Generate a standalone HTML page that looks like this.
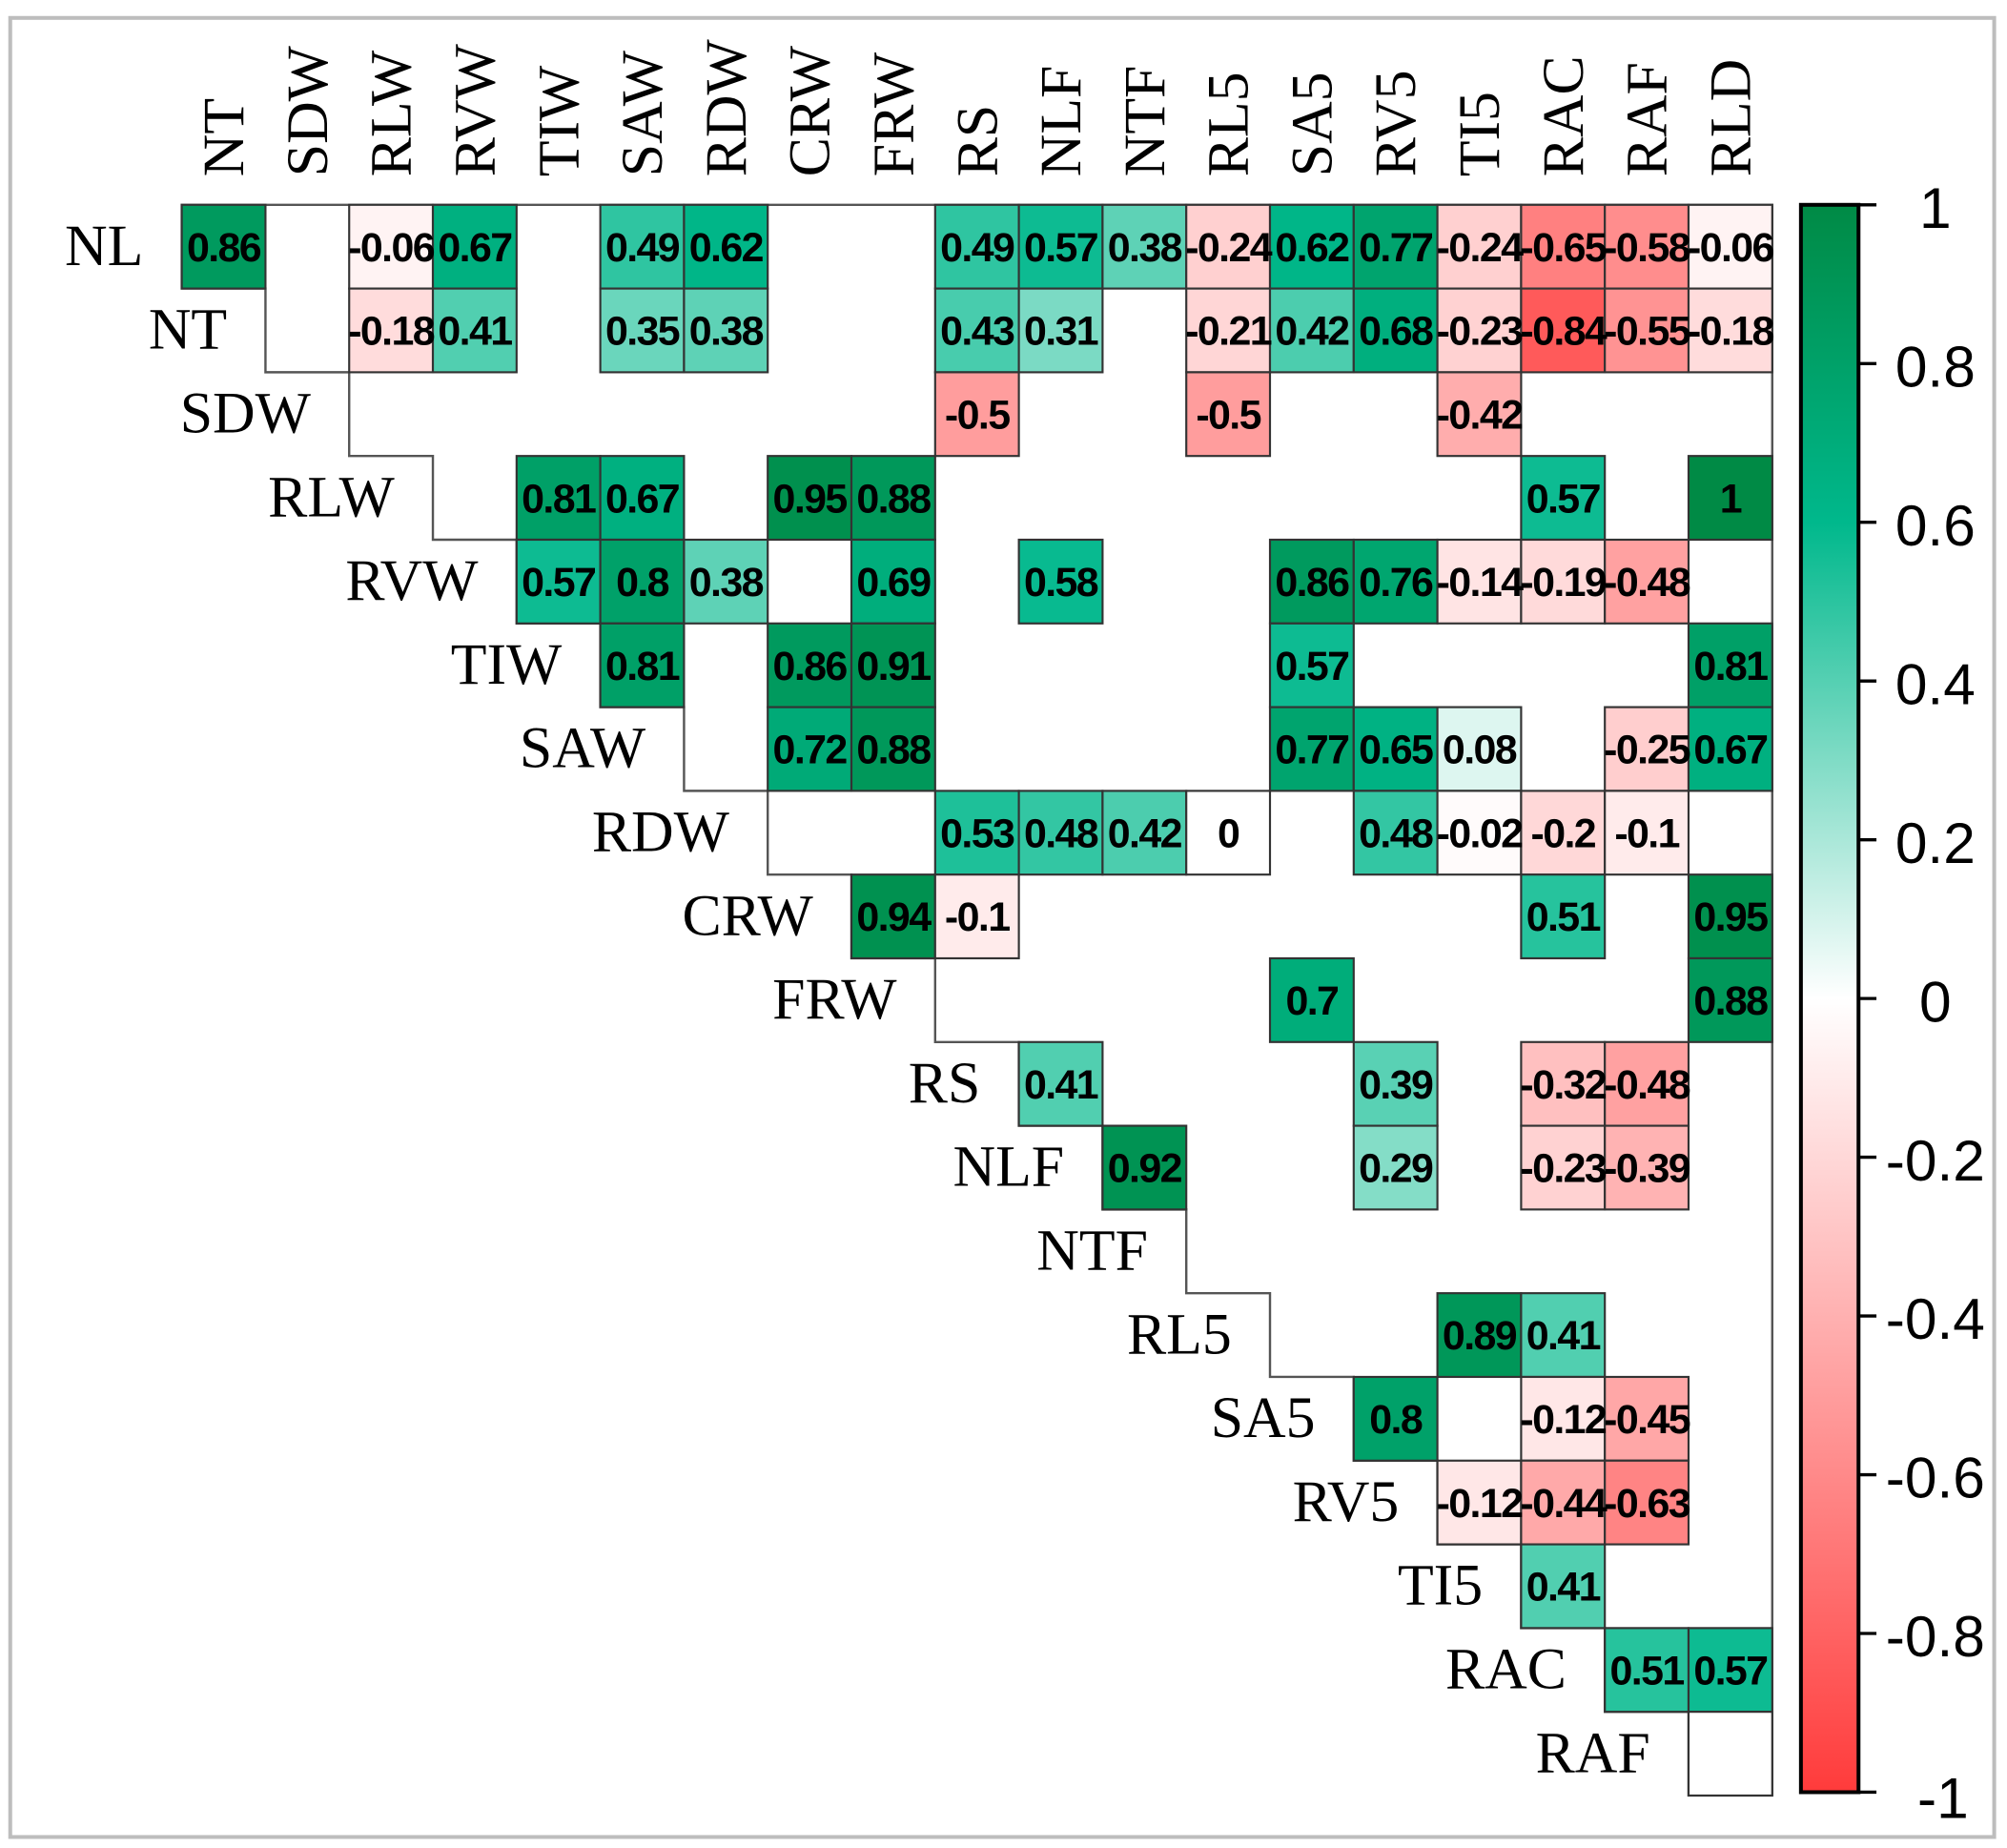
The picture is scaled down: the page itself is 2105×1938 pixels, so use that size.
<!DOCTYPE html>
<html><head><meta charset="utf-8"><style>
html,body{margin:0;padding:0;background:#fff;}
svg{display:block}
.v{font-family:"Liberation Sans",Arial,sans-serif;font-weight:bold;font-size:32px;letter-spacing:-1.2px;text-anchor:middle;fill:#000}
.l{font-family:"Liberation Serif","Times New Roman",serif;font-size:46px;fill:#000}
.r{text-anchor:end}
.t{font-family:"Liberation Sans",Arial,sans-serif;font-size:45px;text-anchor:middle;fill:#000}
rect.c{stroke:#333;stroke-width:1.6}
</style></head><body>
<svg width="2105" height="1938" viewBox="0 0 1568 1443.6" xmlns="http://www.w3.org/2000/svg">
<defs><linearGradient id="g" x1="0" y1="0" x2="0" y2="1">
<stop offset="0" stop-color="#008a45"/><stop offset="0.2" stop-color="#00b88c"/><stop offset="0.5" stop-color="#ffffff"/><stop offset="1" stop-color="#ff3b3b"/></linearGradient></defs>
<rect x="0" y="0" width="1568" height="1443.6" fill="#fff"/>
<rect x="8" y="14" width="1550" height="1421" fill="none" stroke="#bdbdbd" stroke-width="3"/>

<g class="l">
<text transform="translate(190,138) rotate(-90)">NT</text>
<text transform="translate(255.4,138) rotate(-90)">SDW</text>
<text transform="translate(320.8,138) rotate(-90)">RLW</text>
<text transform="translate(386.2,138) rotate(-90)">RVW</text>
<text transform="translate(451.6,138) rotate(-90)">TIW</text>
<text transform="translate(517,138) rotate(-90)">SAW</text>
<text transform="translate(582.4,138) rotate(-90)">RDW</text>
<text transform="translate(647.8,138) rotate(-90)">CRW</text>
<text transform="translate(713.2,138) rotate(-90)">FRW</text>
<text transform="translate(778.6,138) rotate(-90)">RS</text>
<text transform="translate(844,138) rotate(-90)">NLF</text>
<text transform="translate(909.4,138) rotate(-90)">NTF</text>
<text transform="translate(974.8,138) rotate(-90)">RL5</text>
<text transform="translate(1040.2,138) rotate(-90)">SA5</text>
<text transform="translate(1105.6,138) rotate(-90)">RV5</text>
<text transform="translate(1171,138) rotate(-90)">TI5</text>
<text transform="translate(1236.4,138) rotate(-90)">RAC</text>
<text transform="translate(1301.8,138) rotate(-90)">RAF</text>
<text transform="translate(1367.2,138) rotate(-90)">RLD</text>
</g>
<g class="l r">
<text x="112" y="207">NL</text>
<text x="177.4" y="272.4">NT</text>
<text x="242.8" y="337.8">SDW</text>
<text x="308.2" y="403.2">RLW</text>
<text x="373.6" y="468.6">RVW</text>
<text x="439" y="534">TIW</text>
<text x="504.4" y="599.4">SAW</text>
<text x="569.8" y="664.8">RDW</text>
<text x="635.2" y="730.2">CRW</text>
<text x="700.6" y="795.6">FRW</text>
<text x="766" y="861">RS</text>
<text x="831.4" y="926.4">NLF</text>
<text x="896.8" y="991.8">NTF</text>
<text x="962.2" y="1057.2">RL5</text>
<text x="1027.6" y="1122.6">SA5</text>
<text x="1093" y="1188">RV5</text>
<text x="1158.4" y="1253.4">TI5</text>
<text x="1223.8" y="1318.8">RAC</text>
<text x="1289.2" y="1384.2">RAF</text>
</g>

<path d="M142,160 H1384.6 V1402.6 H1319.2 V1337.2 H1253.8 V1271.8 H1188.4 V1206.4 H1123 V1141 H1057.6 V1075.6 H992.2 V1010.2 H926.8 V944.8 H861.4 V879.4 H796 V814 H730.6 V748.6 H665.2 V683.2 H599.8 V617.8 H534.4 V552.4 H469 V487 H403.6 V421.6 H338.2 V356.2 H272.8 V290.8 H207.4 V225.4 H142 Z" fill="none" stroke="#555" stroke-width="1.8"/>

<g id="cells">
<rect class="c" x="142" y="160" width="65.4" height="65.4" fill="#009a5e"/>
<rect class="c" x="272.8" y="160" width="65.4" height="65.4" fill="#fff3f3"/>
<rect class="c" x="338.2" y="160" width="65.4" height="65.4" fill="#00b080"/>
<rect class="c" x="469" y="160" width="65.4" height="65.4" fill="#2fc5a1"/>
<rect class="c" x="534.4" y="160" width="65.4" height="65.4" fill="#00b688"/>
<rect class="c" x="730.6" y="160" width="65.4" height="65.4" fill="#2fc5a1"/>
<rect class="c" x="796" y="160" width="65.4" height="65.4" fill="#0dbb92"/>
<rect class="c" x="861.4" y="160" width="65.4" height="65.4" fill="#5ed2b6"/>
<rect class="c" x="926.8" y="160" width="65.4" height="65.4" fill="#ffd0d0"/>
<rect class="c" x="992.2" y="160" width="65.4" height="65.4" fill="#00b688"/>
<rect class="c" x="1057.6" y="160" width="65.4" height="65.4" fill="#00a46e"/>
<rect class="c" x="1123" y="160" width="65.4" height="65.4" fill="#ffd0d0"/>
<rect class="c" x="1188.4" y="160" width="65.4" height="65.4" fill="#ff8080"/>
<rect class="c" x="1253.8" y="160" width="65.4" height="65.4" fill="#ff8d8d"/>
<rect class="c" x="1319.2" y="160" width="65.4" height="65.4" fill="#fff3f3"/>
<rect class="c" x="272.8" y="225.4" width="65.4" height="65.4" fill="#ffdcdc"/>
<rect class="c" x="338.2" y="225.4" width="65.4" height="65.4" fill="#51cfb0"/>
<rect class="c" x="469" y="225.4" width="65.4" height="65.4" fill="#6ad6bc"/>
<rect class="c" x="534.4" y="225.4" width="65.4" height="65.4" fill="#5ed2b6"/>
<rect class="c" x="730.6" y="225.4" width="65.4" height="65.4" fill="#48ccad"/>
<rect class="c" x="796" y="225.4" width="65.4" height="65.4" fill="#7bdac4"/>
<rect class="c" x="926.8" y="225.4" width="65.4" height="65.4" fill="#ffd6d6"/>
<rect class="c" x="992.2" y="225.4" width="65.4" height="65.4" fill="#4ccdae"/>
<rect class="c" x="1057.6" y="225.4" width="65.4" height="65.4" fill="#00af7e"/>
<rect class="c" x="1123" y="225.4" width="65.4" height="65.4" fill="#ffd2d2"/>
<rect class="c" x="1188.4" y="225.4" width="65.4" height="65.4" fill="#ff5a5a"/>
<rect class="c" x="1253.8" y="225.4" width="65.4" height="65.4" fill="#ff9393"/>
<rect class="c" x="1319.2" y="225.4" width="65.4" height="65.4" fill="#ffdcdc"/>
<rect class="c" x="730.6" y="290.8" width="65.4" height="65.4" fill="#ff9d9d"/>
<rect class="c" x="926.8" y="290.8" width="65.4" height="65.4" fill="#ff9d9d"/>
<rect class="c" x="1123" y="290.8" width="65.4" height="65.4" fill="#ffadad"/>
<rect class="c" x="403.6" y="356.2" width="65.4" height="65.4" fill="#00a067"/>
<rect class="c" x="469" y="356.2" width="65.4" height="65.4" fill="#00b080"/>
<rect class="c" x="599.8" y="356.2" width="65.4" height="65.4" fill="#00904e"/>
<rect class="c" x="665.2" y="356.2" width="65.4" height="65.4" fill="#00985a"/>
<rect class="c" x="1188.4" y="356.2" width="65.4" height="65.4" fill="#0dbb92"/>
<rect class="c" x="1319.2" y="356.2" width="65.4" height="65.4" fill="#008a45"/>
<rect class="c" x="403.6" y="421.6" width="65.4" height="65.4" fill="#0dbb92"/>
<rect class="c" x="469" y="421.6" width="65.4" height="65.4" fill="#00a169"/>
<rect class="c" x="534.4" y="421.6" width="65.4" height="65.4" fill="#5ed2b6"/>
<rect class="c" x="665.2" y="421.6" width="65.4" height="65.4" fill="#00ae7c"/>
<rect class="c" x="796" y="421.6" width="65.4" height="65.4" fill="#08ba90"/>
<rect class="c" x="992.2" y="421.6" width="65.4" height="65.4" fill="#009a5e"/>
<rect class="c" x="1057.6" y="421.6" width="65.4" height="65.4" fill="#00a66f"/>
<rect class="c" x="1123" y="421.6" width="65.4" height="65.4" fill="#ffe4e4"/>
<rect class="c" x="1188.4" y="421.6" width="65.4" height="65.4" fill="#ffdada"/>
<rect class="c" x="1253.8" y="421.6" width="65.4" height="65.4" fill="#ffa1a1"/>
<rect class="c" x="469" y="487" width="65.4" height="65.4" fill="#00a067"/>
<rect class="c" x="599.8" y="487" width="65.4" height="65.4" fill="#009a5e"/>
<rect class="c" x="665.2" y="487" width="65.4" height="65.4" fill="#009455"/>
<rect class="c" x="992.2" y="487" width="65.4" height="65.4" fill="#0dbb92"/>
<rect class="c" x="1319.2" y="487" width="65.4" height="65.4" fill="#00a067"/>
<rect class="c" x="599.8" y="552.4" width="65.4" height="65.4" fill="#00aa77"/>
<rect class="c" x="665.2" y="552.4" width="65.4" height="65.4" fill="#00985a"/>
<rect class="c" x="992.2" y="552.4" width="65.4" height="65.4" fill="#00a46e"/>
<rect class="c" x="1057.6" y="552.4" width="65.4" height="65.4" fill="#00b283"/>
<rect class="c" x="1123" y="552.4" width="65.4" height="65.4" fill="#ddf6f0"/>
<rect class="c" x="1253.8" y="552.4" width="65.4" height="65.4" fill="#ffcece"/>
<rect class="c" x="1319.2" y="552.4" width="65.4" height="65.4" fill="#00b080"/>
<rect class="c" x="730.6" y="617.8" width="65.4" height="65.4" fill="#1ec099"/>
<rect class="c" x="796" y="617.8" width="65.4" height="65.4" fill="#33c6a3"/>
<rect class="c" x="861.4" y="617.8" width="65.4" height="65.4" fill="#4ccdae"/>
<rect class="c" x="926.8" y="617.8" width="65.4" height="65.4" fill="#ffffff"/>
<rect class="c" x="1057.6" y="617.8" width="65.4" height="65.4" fill="#33c6a3"/>
<rect class="c" x="1123" y="617.8" width="65.4" height="65.4" fill="#fffbfb"/>
<rect class="c" x="1188.4" y="617.8" width="65.4" height="65.4" fill="#ffd8d8"/>
<rect class="c" x="1253.8" y="617.8" width="65.4" height="65.4" fill="#ffebeb"/>
<rect class="c" x="665.2" y="683.2" width="65.4" height="65.4" fill="#009150"/>
<rect class="c" x="730.6" y="683.2" width="65.4" height="65.4" fill="#ffebeb"/>
<rect class="c" x="1188.4" y="683.2" width="65.4" height="65.4" fill="#26c39d"/>
<rect class="c" x="1319.2" y="683.2" width="65.4" height="65.4" fill="#00904e"/>
<rect class="c" x="992.2" y="748.6" width="65.4" height="65.4" fill="#00ad7a"/>
<rect class="c" x="1319.2" y="748.6" width="65.4" height="65.4" fill="#00985a"/>
<rect class="c" x="796" y="814" width="65.4" height="65.4" fill="#51cfb0"/>
<rect class="c" x="1057.6" y="814" width="65.4" height="65.4" fill="#59d1b4"/>
<rect class="c" x="1188.4" y="814" width="65.4" height="65.4" fill="#ffc0c0"/>
<rect class="c" x="1253.8" y="814" width="65.4" height="65.4" fill="#ffa1a1"/>
<rect class="c" x="861.4" y="879.4" width="65.4" height="65.4" fill="#009353"/>
<rect class="c" x="1057.6" y="879.4" width="65.4" height="65.4" fill="#84ddc7"/>
<rect class="c" x="1188.4" y="879.4" width="65.4" height="65.4" fill="#ffd2d2"/>
<rect class="c" x="1253.8" y="879.4" width="65.4" height="65.4" fill="#ffb3b3"/>
<rect class="c" x="1123" y="1010.2" width="65.4" height="65.4" fill="#009759"/>
<rect class="c" x="1188.4" y="1010.2" width="65.4" height="65.4" fill="#51cfb0"/>
<rect class="c" x="1057.6" y="1075.6" width="65.4" height="65.4" fill="#00a169"/>
<rect class="c" x="1188.4" y="1075.6" width="65.4" height="65.4" fill="#ffe7e7"/>
<rect class="c" x="1253.8" y="1075.6" width="65.4" height="65.4" fill="#ffa7a7"/>
<rect class="c" x="1123" y="1141" width="65.4" height="65.4" fill="#ffe7e7"/>
<rect class="c" x="1188.4" y="1141" width="65.4" height="65.4" fill="#ffa9a9"/>
<rect class="c" x="1253.8" y="1141" width="65.4" height="65.4" fill="#ff8484"/>
<rect class="c" x="1188.4" y="1206.4" width="65.4" height="65.4" fill="#51cfb0"/>
<rect class="c" x="1253.8" y="1271.8" width="65.4" height="65.4" fill="#26c39d"/>
<rect class="c" x="1319.2" y="1271.8" width="65.4" height="65.4" fill="#0dbb92"/>
<rect class="c" x="1319.2" y="1337.2" width="65.4" height="65.4" fill="#ffffff"/>
</g>

<g class="v">
<text x="174.7" y="204">0.86</text><text x="305.5" y="204">-0.06</text><text x="370.9" y="204">0.67</text><text x="501.7" y="204">0.49</text><text x="567.1" y="204">0.62</text><text x="763.3" y="204">0.49</text><text x="828.7" y="204">0.57</text><text x="894.1" y="204">0.38</text><text x="959.5" y="204">-0.24</text><text x="1024.9" y="204">0.62</text><text x="1090.3" y="204">0.77</text><text x="1155.7" y="204">-0.24</text><text x="1221.1" y="204">-0.65</text><text x="1286.5" y="204">-0.58</text><text x="1351.9" y="204">-0.06</text>
<text x="305.5" y="269.4">-0.18</text><text x="370.9" y="269.4">0.41</text><text x="501.7" y="269.4">0.35</text><text x="567.1" y="269.4">0.38</text><text x="763.3" y="269.4">0.43</text><text x="828.7" y="269.4">0.31</text><text x="959.5" y="269.4">-0.21</text><text x="1024.9" y="269.4">0.42</text><text x="1090.3" y="269.4">0.68</text><text x="1155.7" y="269.4">-0.23</text><text x="1221.1" y="269.4">-0.84</text><text x="1286.5" y="269.4">-0.55</text><text x="1351.9" y="269.4">-0.18</text>
<text x="763.3" y="334.8">-0.5</text><text x="959.5" y="334.8">-0.5</text><text x="1155.7" y="334.8">-0.42</text>
<text x="436.3" y="400.2">0.81</text><text x="501.7" y="400.2">0.67</text><text x="632.5" y="400.2">0.95</text><text x="697.9" y="400.2">0.88</text><text x="1221.1" y="400.2">0.57</text><text x="1351.9" y="400.2">1</text>
<text x="436.3" y="465.6">0.57</text><text x="501.7" y="465.6">0.8</text><text x="567.1" y="465.6">0.38</text><text x="697.9" y="465.6">0.69</text><text x="828.7" y="465.6">0.58</text><text x="1024.9" y="465.6">0.86</text><text x="1090.3" y="465.6">0.76</text><text x="1155.7" y="465.6">-0.14</text><text x="1221.1" y="465.6">-0.19</text><text x="1286.5" y="465.6">-0.48</text>
<text x="501.7" y="531">0.81</text><text x="632.5" y="531">0.86</text><text x="697.9" y="531">0.91</text><text x="1024.9" y="531">0.57</text><text x="1351.9" y="531">0.81</text>
<text x="632.5" y="596.4">0.72</text><text x="697.9" y="596.4">0.88</text><text x="1024.9" y="596.4">0.77</text><text x="1090.3" y="596.4">0.65</text><text x="1155.7" y="596.4">0.08</text><text x="1286.5" y="596.4">-0.25</text><text x="1351.9" y="596.4">0.67</text>
<text x="763.3" y="661.8">0.53</text><text x="828.7" y="661.8">0.48</text><text x="894.1" y="661.8">0.42</text><text x="959.5" y="661.8">0</text><text x="1090.3" y="661.8">0.48</text><text x="1155.7" y="661.8">-0.02</text><text x="1221.1" y="661.8">-0.2</text><text x="1286.5" y="661.8">-0.1</text>
<text x="697.9" y="727.2">0.94</text><text x="763.3" y="727.2">-0.1</text><text x="1221.1" y="727.2">0.51</text><text x="1351.9" y="727.2">0.95</text>
<text x="1024.9" y="792.6">0.7</text><text x="1351.9" y="792.6">0.88</text>
<text x="828.7" y="858">0.41</text><text x="1090.3" y="858">0.39</text><text x="1221.1" y="858">-0.32</text><text x="1286.5" y="858">-0.48</text>
<text x="894.1" y="923.4">0.92</text><text x="1090.3" y="923.4">0.29</text><text x="1221.1" y="923.4">-0.23</text><text x="1286.5" y="923.4">-0.39</text>
<text x="1155.7" y="1054.2">0.89</text><text x="1221.1" y="1054.2">0.41</text>
<text x="1090.3" y="1119.6">0.8</text><text x="1221.1" y="1119.6">-0.12</text><text x="1286.5" y="1119.6">-0.45</text>
<text x="1155.7" y="1185">-0.12</text><text x="1221.1" y="1185">-0.44</text><text x="1286.5" y="1185">-0.63</text>
<text x="1221.1" y="1250.4">0.41</text>
<text x="1286.5" y="1315.8">0.51</text><text x="1351.9" y="1315.8">0.57</text>
</g>

<rect x="1407" y="160" width="45" height="1240" fill="url(#g)" stroke="#000" stroke-width="3"/>
<g stroke="#000" stroke-width="2.5">
<line x1="1452" y1="160" x2="1466" y2="160"/><line x1="1452" y1="284" x2="1466" y2="284"/><line x1="1452" y1="408" x2="1466" y2="408"/><line x1="1452" y1="532" x2="1466" y2="532"/><line x1="1452" y1="656" x2="1466" y2="656"/><line x1="1452" y1="780" x2="1466" y2="780"/><line x1="1452" y1="904" x2="1466" y2="904"/><line x1="1452" y1="1028" x2="1466" y2="1028"/><line x1="1452" y1="1152" x2="1466" y2="1152"/><line x1="1452" y1="1276" x2="1466" y2="1276"/><line x1="1452" y1="1400" x2="1466" y2="1400"/>
</g>
<g class="t">
<text x="1512" y="178">1</text>
<text x="1512" y="302">0.8</text>
<text x="1512" y="426">0.6</text>
<text x="1512" y="550">0.4</text>
<text x="1512" y="674">0.2</text>
<text x="1512" y="798">0</text>
<text x="1512" y="922">-0.2</text>
<text x="1512" y="1046">-0.4</text>
<text x="1512" y="1170">-0.6</text>
<text x="1512" y="1294">-0.8</text>
<text x="1518" y="1420">-1</text>
</g>
</svg>
</body></html>
